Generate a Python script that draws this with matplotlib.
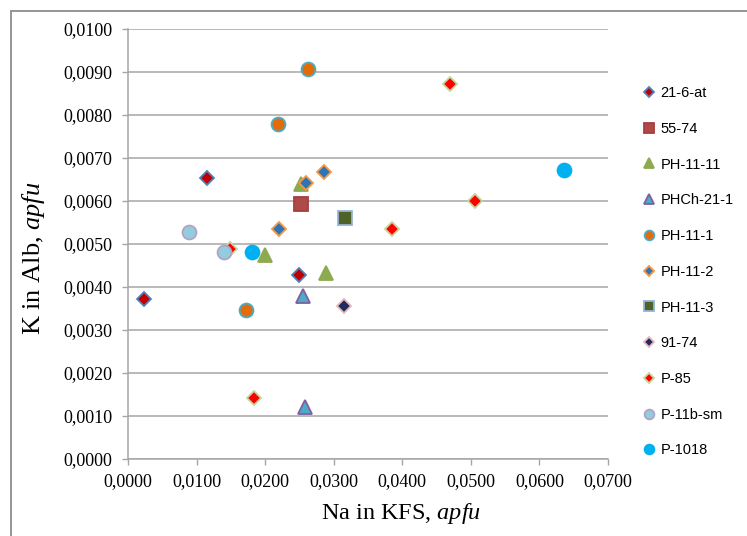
import matplotlib.pyplot as plt
from matplotlib.patches import Rectangle
from matplotlib.ticker import FuncFormatter, MultipleLocator

plt.rcParams['font.family'] = ['Liberation Serif', 'DejaVu Serif']
plt.rcParams['mathtext.fontset'] = 'custom'
plt.rcParams['mathtext.rm'] = 'Liberation Serif'
plt.rcParams['mathtext.it'] = 'Liberation Serif:italic'

# series: name, Na in KFS, K in Alb
names = ['21-6-at', '55-74', 'PH-11-11', 'PHCh-21-1', 'PH-11-1', 'PH-11-2',
         'PH-11-3', '91-74', 'P-85', 'P-11b-sm', 'P-1018']
na_vals = [
    [0.0115, 0.0023, 0.0249],
    [0.0252],
    [0.0252, 0.0200, 0.0289],
    [0.0255, 0.0258],
    [0.0262, 0.0219, 0.0172],
    [0.0260, 0.0286, 0.0220],
    [0.0317],
    [0.0315],
    [0.0470, 0.0506, 0.0385, 0.0184, 0.0149],
    [0.0089, 0.0140],
    [0.0181, 0.0636],
]
k_vals = [
    [0.00654, 0.00373, 0.00428],
    [0.00593],
    [0.00640, 0.00474, 0.00433],
    [0.00380, 0.00121],
    [0.00907, 0.00780, 0.00347],
    [0.00642, 0.00667, 0.00535],
    [0.00560],
    [0.00355],
    [0.00873, 0.00601, 0.00535, 0.00142, 0.00488],
    [0.00527, 0.00481],
    [0.00481, 0.00673],
]
markers = ['D', 's', '^', '^', 'o', 'D', 's', 'D', 'D', 'o', 'o']
faces = ['#C00000', '#AE4A47', '#8DAA4F', '#4BACC6', '#E36C0A', '#2E75B6',
         '#4F6228', '#1F2A60', '#FF0000', '#93CDDD', '#00B0F0']
edges = ['#4F81BD', '#A5403F', '#8DAA4F', '#7F5FA0', '#4BACC6', '#F79646',
         '#95B3D7', '#E6B9B8', '#C3D69B', '#B3A2C7', '#00B0F0']
sizes = [6.8, 9.5, 10, 10, 10, 6.8, 9.5, 6.8, 6.8, 10, 10]

fig = plt.figure(figsize=(7.47, 5.36), dpi=100)
ax = fig.add_axes([128 / 747, 1 - 459 / 536, 480 / 747, 430 / 536])

for i in range(len(names)):
    ax.plot(na_vals[i], k_vals[i], linestyle='none', marker=markers[i],
            markersize=sizes[i], markerfacecolor=faces[i],
            markeredgecolor=edges[i], markeredgewidth=1.3, label=names[i],
            zorder=3)

ax.set_xlim(0, 0.07)
ax.set_ylim(0, 0.01)
ax.xaxis.set_major_locator(MultipleLocator(0.01))
ax.yaxis.set_major_locator(MultipleLocator(0.001))
fmt = FuncFormatter(lambda v, p: f'{v:.4f}'.replace('.', ','))
ax.xaxis.set_major_formatter(fmt)
ax.yaxis.set_major_formatter(fmt)

ax.grid(axis='y', color='#A6A6A6', linewidth=1.1)
ax.set_axisbelow(True)
for s in ['top', 'right']:
    ax.spines[s].set_visible(False)
for s in ['left', 'bottom']:
    ax.spines[s].set_color('#A6A6A6')
    ax.spines[s].set_linewidth(1.1)
ax.tick_params(axis='both', direction='out', length=4, width=1,
               color='#A6A6A6', labelsize=13, labelcolor='black')
ax.tick_params(axis='y', pad=7)
ax.tick_params(axis='x', pad=6)

ax.set_xlabel(r'Na in KFS, $apfu$', fontsize=17.5)
ax.xaxis.set_label_coords(0.569, -0.098)
ax.set_ylabel(r'K in Alb, $apfu$', fontsize=19)
ax.yaxis.set_label_coords(-0.169, 0.466)

leg = fig.legend(loc='upper left', bbox_to_anchor=(630 / 747, 1 - 73 / 536),
                 frameon=False, prop={'family': 'Liberation Sans', 'size': 10.5},
                 markerscale=0.7, handlelength=0.8, handletextpad=0.4,
                 labelspacing=1.49)

fig.patches.append(Rectangle((11 / 747, -0.1), 1.2, 1.1 - 11 / 536,
                             transform=fig.transFigure, fill=False,
                             edgecolor='#8C8C8C', linewidth=1.3))

fig.savefig('out.png', dpi=100)
